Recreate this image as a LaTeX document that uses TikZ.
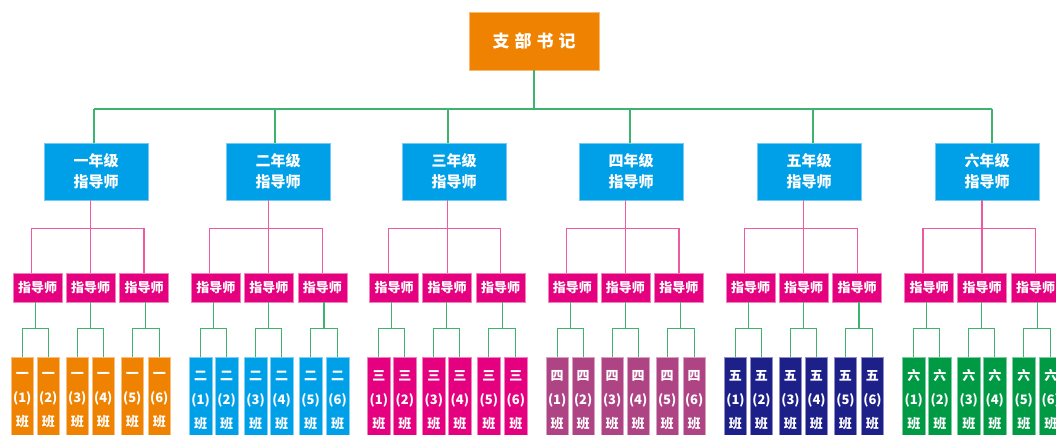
\documentclass[tikz,border=0pt]{standalone}
\usepackage{fontspec}
\newfontfamily\cjk{Noto Sans CJK SC}
\usetikzlibrary{calc}
\definecolor{corange}{HTML}{EF8200}
\definecolor{cblue}{HTML}{00A0E9}
\definecolor{cmag}{HTML}{E4007F}
\definecolor{cmauve}{HTML}{AF4485}
\definecolor{cnavy}{HTML}{1D2088}
\definecolor{cgreen}{HTML}{009A44}
\definecolor{lgreen}{HTML}{3DB36F}
\definecolor{lpink}{HTML}{EC5AA2}
\tikzset{
 box/.style={rectangle, inner sep=0pt, text=white, align=center},
 topbox/.style={box, fill=corange, draw=corange!55!white, line width=0.6pt, minimum width=130pt, minimum height=58pt, font=\cjk\bfseries\fontsize{17}{20}\selectfont},
 gradebox/.style={box, fill=cblue, draw=cblue!55!white, line width=0.6pt, minimum width=104pt, minimum height=57pt, font=\cjk\bfseries\fontsize{15}{21}\selectfont},
 tutorbox/.style={box, fill=cmag, draw=cmag!50!white, line width=0.6pt, minimum width=49pt, minimum height=29pt, font=\cjk\bfseries\fontsize{13}{15}\selectfont},
 classbox/.style={box, fill=#1, draw=#1!50!white, line width=0.6pt, minimum width=22.5pt, minimum height=86pt, font=\cjk\bfseries\fontsize{13}{24}\selectfont},
 gline/.style={draw=lgreen, line width=1.2pt},
 pline/.style={draw=lpink, line width=1.2pt},
}
\begin{document}
\begin{tikzpicture}[x=1pt,y=-1pt]
\useasboundingbox (0,0) rectangle (1056,435);
\clip (0,0) rectangle (1056,435);
\fill[white] (0,0) rectangle (1056,435);
\node[topbox] (top) at (534,41) {支\hspace{5pt}部\hspace{5pt}书\hspace{5pt}记};
\foreach \i/\x/\lab in {1/96/一,2/278/二,3/454/三,4/631/四,5/809/五,6/987/六}
  \node[gradebox] (g\i) at (\x,171.5) {\lab 年级\\指导师};
\foreach \i/\lab/\col in {1/一/corange,2/二/cblue,3/三/cmag,4/四/cmauve,5/五/cnavy,6/六/cgreen} {
  \pgfmathsetmacro\ox{178.3*(\i-1)}
  \foreach \j/\px in {1/37.5,2/90.5,3/144}
    \node[tutorbox] (p\i\j) at (\ox+\px,287.5) {指导师};
  \foreach \k/\cx in {1/22.25,2/48.25,3/77.25,4/103.25,5/132.25,6/159.25}
    \node[classbox=\col] (c\i\k) at (\ox+\cx,400) {\lab\\(\k)\\班};
}
\coordinate (bus) at (0,109);
\draw[gline] (top.south) -- (top.south |- bus);
\foreach \i/\dx in {1/94,2/275,3/448,4/630,5/813,6/992}
  \coordinate (d\i) at (\dx,109);
\draw[gline] (d1) -- (d6);
\foreach \i in {1,...,6} {
  \draw[gline] (d\i) -- (d\i |- g\i.north);
  \draw[pline] (g\i.south -| p\i2.north) -- (p\i2.north);
  \coordinate (pb\i) at ($(p\i2.north)+(0,-44)$);
  \draw[pline] ([xshift=-6pt]p\i1.north) |- (pb\i) -| (p\i3.north);
  \foreach \a/\b/\j in {1/2/1,3/4/2,5/6/3} {
    \coordinate (m\i\j) at ($(c\i\a.north)!0.5!(c\i\b.north)+(0,-28)$);
    \draw[gline] (c\i\a.north) |- (m\i\j) -| (c\i\b.north);
    \draw[gline] (m\i\j) -- (m\i\j |- p\i\j.south);
  }
}
\end{tikzpicture}
\end{document}
